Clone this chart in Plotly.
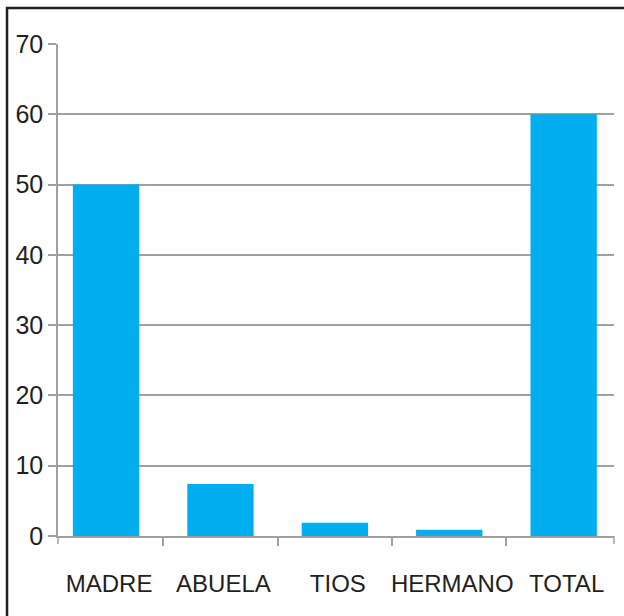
import plotly.graph_objects as go

categories = ["MADRE", "ABUELA", "TIOS", "HERMANO", "TOTAL"]
values = [50, 7.4, 1.9, 0.9, 60]
y_ticks = [0, 10, 20, 30, 40, 50, 60, 70]

AX = "#a0a0a0"
fig = go.Figure()
fig.add_trace(go.Bar(
    x=categories, y=values,
    marker=dict(color="#00AEEF", line=dict(width=0)),
    width=0.58,
))

tick_h = 8 / 492
fig.update_layout(
    width=624, height=616,
    margin=dict(l=58, r=10, t=44, b=80),
    paper_bgcolor="white", plot_bgcolor="white",
    showlegend=False,
    font=dict(family="Liberation Sans, Arial, sans-serif", color="#231f20", size=22),
    xaxis=dict(
        range=[-0.42, 4.44],
        showline=True, linecolor=AX, linewidth=1.5,
        ticks="outside", ticklen=8, tickcolor=AX, tickwidth=1.5,
        tickson="boundaries", showgrid=False, tickangle=0, automargin=False,
        tickfont=dict(size=24), ticklabelstandoff=25, ticklabelshift=3,
    ),
    yaxis=dict(
        range=[0, 70], tickvals=y_ticks, automargin=False,
        showline=True, linecolor=AX, linewidth=1.5,
        ticks="outside", ticklen=8, tickcolor=AX, tickwidth=1.5,
        showgrid=True, gridcolor=AX, gridwidth=1.5,
        zeroline=False, tickfont=dict(size=25), ticklabelstandoff=0,
    ),
    shapes=[
        dict(type="line", xref="paper", yref="paper", x0=0, x1=0, y0=0, y1=-tick_h,
             line=dict(color=AX, width=1.5)),
        dict(type="line", xref="paper", yref="paper", x0=1, x1=1, y0=0, y1=-tick_h,
             line=dict(color=AX, width=1.5)),
        dict(type="rect", xref="paper", yref="paper",
             x0=-0.0917, x1=1.03, y0=-0.19, y1=1.0732,
             line=dict(color="#231f20", width=2.5), fillcolor="rgba(0,0,0,0)",
             layer="above"),
    ],
)

fig.write_html("out.html", post_script="document.body.style.margin='0';",
               config={"displayModeBar": False})
